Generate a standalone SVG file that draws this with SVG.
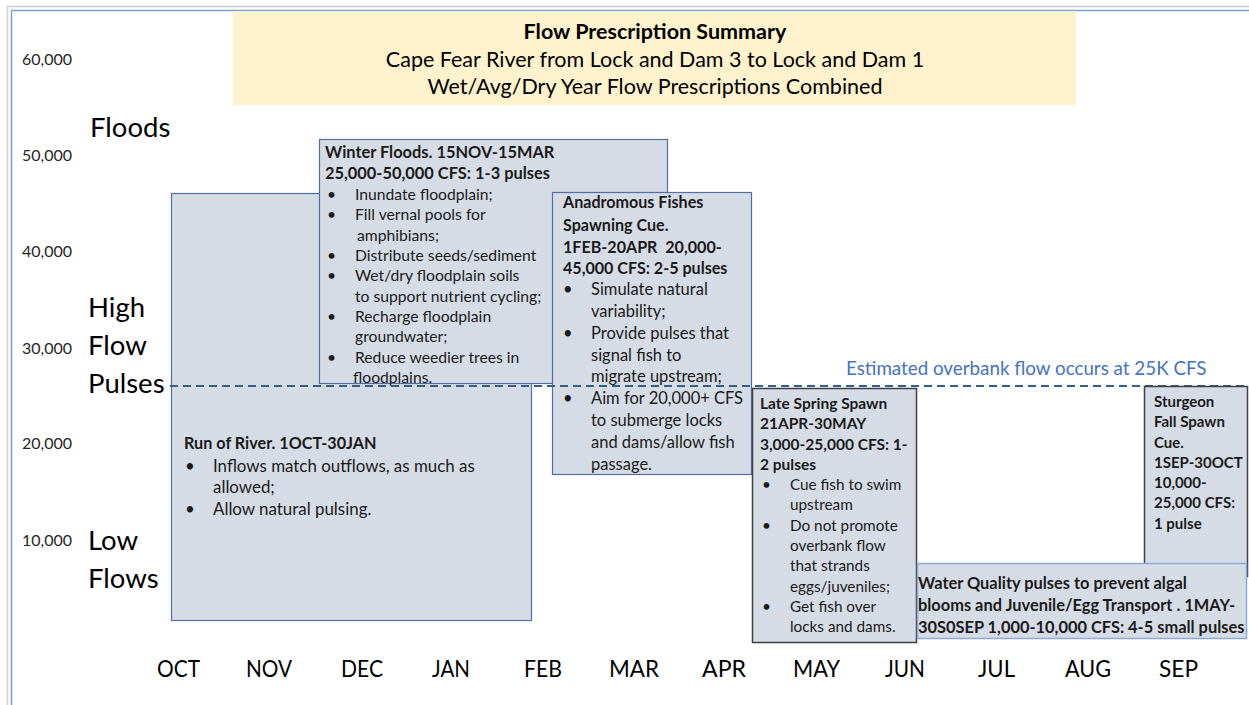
<svg xmlns="http://www.w3.org/2000/svg" width="1249" height="705" viewBox="0 0 1249 705">
<style>
text{font-family:Lato,"Open Sans","Liberation Sans",sans-serif;fill:#1a1a1a}
.axis{font-size:16px;fill:#262626}
.big{font-size:27.5px;fill:#000}
.mon{font-size:24px;fill:#000}
.box{fill:#d6dce5;stroke:#4f6fa8;stroke-width:1.2}
.boxd{fill:#d6dce5;stroke:#404040;stroke-width:1.5}
.boxl{fill:#d6dce5;stroke:#8eaadb;stroke-width:1.5}
.b{font-weight:bold}
.ttl{font-size:21.5px;fill:#000}
#run-of-river text{font-size:16.9px}
#run-of-river .b{font-size:16.2px}
#winter-floods text{font-size:15.7px}
#winter-floods .b{font-size:16.4px}
#anadromous text{font-size:16.5px}
#anadromous .b{font-size:16.1px}
#late-spring text{font-size:15.3px}
#late-spring .b{font-size:15.5px}
#sturgeon .b{font-size:15px}
#water-quality .b{font-size:16.4px}
</style>
<rect x="0" y="0" width="1249" height="705" fill="#fff"/>
<g id="frame" fill="none">
<path d="M7.5 705 V6.5 H1249" stroke="#d0d0d0" stroke-width="1.5"/>
<path d="M11.5 705 V10.5 H1249" stroke="#7f9fdc" stroke-width="1.5"/>
</g>
<g id="title">
<rect x="233" y="11" width="843" height="94" fill="#fff2cc"/>
<text class="ttl" x="655" y="39" text-anchor="middle" font-weight="bold">Flow Prescription Summary</text>
<text class="ttl" x="655" y="67" text-anchor="middle">Cape Fear River from Lock and Dam 3 to Lock and Dam 1</text>
<text class="ttl" x="655" y="94" text-anchor="middle">Wet/Avg/Dry Year Flow Prescriptions Combined</text>
</g>
<g id="y-axis">
<text class="axis" x="22" y="65">60,000</text>
<text class="axis" x="22" y="161">50,000</text>
<text class="axis" x="22" y="257">40,000</text>
<text class="axis" x="22" y="354">30,000</text>
<text class="axis" x="22" y="449">20,000</text>
<text class="axis" x="22" y="546">10,000</text>
</g>
<g id="categories">
<text class="big" x="90" y="137">Floods</text>
<text class="big" x="88" y="317">High</text>
<text class="big" x="88" y="355">Flow</text>
<text class="big" x="88" y="393">Pulses</text>
<text class="big" x="88" y="550">Low</text>
<text class="big" x="88" y="588">Flows</text>
</g>
<g id="run-of-river">
<rect class="box" x="171.5" y="193.5" width="360" height="427"/>
<text class="b" x="184" y="449">Run of River. 1OCT-30JAN</text>
<text x="185" y="472">•</text><text x="213" y="472">Inflows match outflows, as much as</text>
<text x="213" y="493">allowed;</text>
<text x="185" y="515">•</text><text x="213" y="515">Allow natural pulsing.</text>
</g>
<g id="winter-floods">
<rect class="box" x="319.5" y="139.5" width="348" height="244"/>
<text class="b" x="325" y="158">Winter Floods. 15NOV-15MAR</text>
<text class="b" x="325" y="179">25,000-50,000 CFS: 1-3 pulses</text>
<text x="327" y="200">•</text><text x="355" y="200">Inundate floodplain;</text>
<text x="327" y="220">•</text><text x="355" y="220">Fill vernal pools for</text>
<text x="357" y="241">amphibians;</text>
<text x="327" y="261">•</text><text x="355" y="261">Distribute seeds/sediment</text>
<text x="327" y="281">•</text><text x="355" y="281">Wet/dry floodplain soils</text>
<text x="355" y="302">to support nutrient cycling;</text>
<text x="327" y="322">•</text><text x="355" y="322">Recharge floodplain</text>
<text x="355" y="342">groundwater;</text>
<text x="327" y="363">•</text><text x="355" y="363">Reduce weedier trees in</text>
<text x="353" y="383">floodplains.</text>
</g>
<g id="anadromous">
<rect class="box" x="552.5" y="192.5" width="199" height="282"/>
<text class="b" x="563" y="208">Anadromous Fishes</text>
<text class="b" x="563" y="231">Spawning Cue.</text>
<text class="b" x="563" y="253" xml:space="preserve">1FEB-20APR  20,000-</text>
<text class="b" x="563" y="274">45,000 CFS: 2-5 pulses</text>
<text x="563" y="295">•</text><text x="591" y="295">Simulate natural</text>
<text x="591" y="317">variability;</text>
<text x="563" y="339">•</text><text x="591" y="339">Provide pulses that</text>
<text x="591" y="361">signal fish to</text>
<text x="591" y="382">migrate upstream;</text>
<text x="563" y="404">•</text><text x="591" y="404">Aim for 20,000+ CFS</text>
<text x="591" y="426">to submerge locks</text>
<text x="591" y="448">and dams/allow fish</text>
<text x="591" y="470">passage.</text>
</g>
<g id="connectors">
<line x1="170" y1="386" x2="1249" y2="386" stroke="#2f5f8f" stroke-width="2" stroke-dasharray="8,5"/>
</g>
<g id="overbank-label">
<text x="846" y="375" font-size="18.8" style="fill:#4472c4">Estimated overbank flow occurs at 25K CFS</text>
</g>
<g id="late-spring">
<rect class="boxd" x="752.5" y="388.5" width="164" height="254"/>
<text class="b" x="760" y="409">Late Spring Spawn</text>
<text class="b" x="760" y="429">21APR-30MAY</text>
<text class="b" x="760" y="450">3,000-25,000 CFS: 1-</text>
<text class="b" x="760" y="470">2 pulses</text>
<text x="762" y="490">•</text><text x="790" y="490">Cue fish to swim</text>
<text x="790" y="510">upstream</text>
<text x="762" y="531">•</text><text x="790" y="531">Do not promote</text>
<text x="790" y="551">overbank flow</text>
<text x="790" y="571">that strands</text>
<text x="790" y="592">eggs/juveniles;</text>
<text x="762" y="612">•</text><text x="790" y="612">Get fish over</text>
<text x="790" y="632">locks and dams.</text>
</g>
<g id="sturgeon">
<rect class="boxd" x="1144.5" y="386.5" width="103" height="190"/>
<text class="b" x="1154" y="407">Sturgeon</text>
<text class="b" x="1154" y="427">Fall Spawn</text>
<text class="b" x="1154" y="448">Cue.</text>
<text class="b" x="1154" y="468">1SEP-30OCT</text>
<text class="b" x="1154" y="488">10,000-</text>
<text class="b" x="1154" y="508">25,000 CFS:</text>
<text class="b" x="1154" y="529">1 pulse</text>
</g>
<g id="water-quality">
<rect class="boxl" x="917.5" y="563.5" width="329" height="75"/>
<text class="b" x="918" y="589">Water Quality pulses to prevent algal</text>
<text class="b" x="918" y="611">blooms and Juvenile/Egg Transport . 1MAY-</text>
<text class="b" x="918" y="633">30S0SEP 1,000-10,000 CFS: 4-5 small pulses</text>
</g>
<g id="months">
<text class="mon" x="157" y="677" textLength="43" lengthAdjust="spacingAndGlyphs">OCT</text>
<text class="mon" x="246" y="677" textLength="46" lengthAdjust="spacingAndGlyphs">NOV</text>
<text class="mon" x="341" y="677" textLength="42" lengthAdjust="spacingAndGlyphs">DEC</text>
<text class="mon" x="432" y="677" textLength="38" lengthAdjust="spacingAndGlyphs">JAN</text>
<text class="mon" x="524" y="677" textLength="38" lengthAdjust="spacingAndGlyphs">FEB</text>
<text class="mon" x="609" y="677" textLength="50" lengthAdjust="spacingAndGlyphs">MAR</text>
<text class="mon" x="702" y="677" textLength="44" lengthAdjust="spacingAndGlyphs">APR</text>
<text class="mon" x="793" y="677" textLength="47" lengthAdjust="spacingAndGlyphs">MAY</text>
<text class="mon" x="885" y="677" textLength="40" lengthAdjust="spacingAndGlyphs">JUN</text>
<text class="mon" x="978" y="677" textLength="37" lengthAdjust="spacingAndGlyphs">JUL</text>
<text class="mon" x="1065" y="677" textLength="46" lengthAdjust="spacingAndGlyphs">AUG</text>
<text class="mon" x="1159" y="677" textLength="39" lengthAdjust="spacingAndGlyphs">SEP</text>
</g>
</svg>
